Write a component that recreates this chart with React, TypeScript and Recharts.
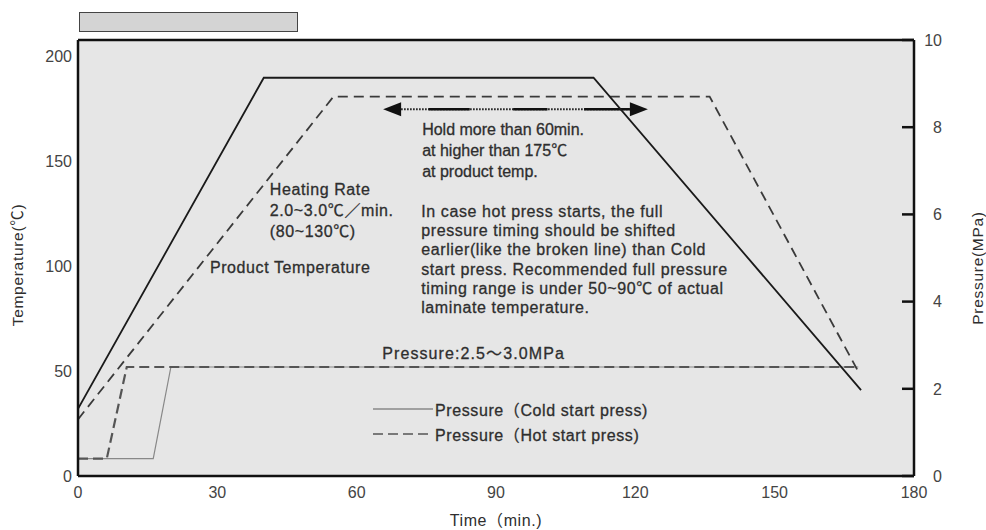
import React from "react";
import {
  ComposedChart,
  Line,
  XAxis,
  YAxis,
  CartesianGrid,
  ReferenceLine,
  ReferenceDot,
  Legend,
} from "recharts";

const FONT = '"Liberation Sans", Arial, "Noto Sans CJK JP", sans-serif';
const INK = "#2e2e2e";

// axes
const timeTicks = [0, 30, 60, 90, 120, 150, 180];
const tempTicks = [0, 50, 100, 150, 200];
const pressTicks = [0, 2, 4, 6, 8, 10];

// press (platen) temperature, solid
const platenTime = [0, 40, 111, 168.6];
const platenTemp = [32, 190, 190, 41];

// product temperature, dashed
const productTime = [0, 55, 136, 168.2];
const productTemp = [27, 181, 181, 49];

// pressure, cold start press
const coldTime = [0, 16.2, 20, 168];
const coldPress = [0.4, 0.4, 2.5, 2.5];

// pressure, hot start press
const hotTime = [0, 6.2, 10.5, 168];
const hotPress = [0.4, 0.4, 2.5, 2.5];

// hold window arrow
const holdFrom = 65.7;
const holdTo = 122.7;
const holdTemp = 175;

const holdNote = ["Hold more than 60min.", "at higher than 175℃", "at product temp."];
const rateNote = ["Heating Rate", "2.0~3.0℃／min.", "(80~130℃)"];
const productNote = ["Product Temperature"];
const hotNote = [
  "In case hot press starts, the full",
  "pressure timing should be shifted",
  "earlier(like the broken line) than Cold",
  "start press. Recommended full pressure",
  "timing range is under 50~90℃ of actual",
  "laminate temperature.",
];
const pressureNote = ["Pressure:2.5～3.0MPa"];

const zip = (xs: number[], ys: number[]) => xs.map((t, i) => ({ t, v: ys[i] }));

const platenData = zip(platenTime, platenTemp);
const productData = zip(productTime, productTemp);
const coldData = zip(coldTime, coldPress);
const hotData = zip(hotTime, hotPress);

// multi-line text block anchored at a data point (first baseline)
function textBlock(lines: string[], lineHeight: number, spacing = 0.6) {
  return (p: any) => (
    <text
      x={p.cx}
      y={p.cy}
      fill={INK}
      stroke={INK}
      strokeWidth={0.3}
      fontSize={16}
      fontFamily={FONT}
      letterSpacing={spacing}
    >
      {lines.map((s, i) => (
        <tspan key={i} x={p.cx} dy={i === 0 ? 0 : lineHeight}>
          {s}
        </tspan>
      ))}
    </text>
  );
}

// double-headed arrow, dotted shaft broken by solid runs
function HoldArrow(p: any) {
  const { x1, x2, y1 } = p;
  const head = 18;
  const a = x1 + head;
  const b = x2 - head;
  const len = b - a;
  const solid = [
    [0.12, 0.3],
    [0.49, 0.64],
    [0.8, 1],
  ];
  return (
    <g>
      <line x1={a} y1={y1} x2={b} y2={y1} stroke="#111" strokeWidth={2} strokeDasharray="1.5 1.5" />
      {solid.map(([s, e], i) => (
        <line key={i} x1={a + s * len} y1={y1} x2={a + e * len} y2={y1} stroke="#111" strokeWidth={2.5} />
      ))}
      <polygon points={`${x1},${y1} ${a},${y1 - 7} ${a},${y1 + 7}`} fill="#111" />
      <polygon points={`${x2},${y1} ${b},${y1 - 7} ${b},${y1 + 7}`} fill="#111" />
    </g>
  );
}

function PressureTick({ x, y, payload }: any) {
  return (
    <g>
      <line x1={x - 12} y1={y} x2={x} y2={y} stroke="#111" strokeWidth={2.5} />
      <text x={x + 28} y={y} dy="0.36em" textAnchor="end" fill="#444" fontSize={16} fontFamily={FONT}>
        {payload.value}
      </text>
    </g>
  );
}

function PressureLegend({ payload }: any) {
  const items = (payload || []).filter((it: any) => it.type !== "none");
  return (
    <div
      style={{
        fontFamily: FONT,
        fontSize: 16,
        color: INK,
        letterSpacing: 0.6,
        WebkitTextStroke: `0.3px ${INK}`,
      }}
    >
      {items.map((it: any) => (
        <div key={it.value} style={{ display: "flex", alignItems: "center", height: 25 }}>
          <svg width={60} height={10}>
            <line
              x1={0}
              x2={60}
              y1={5}
              y2={5}
              stroke={it.color}
              strokeWidth={1.5}
              strokeDasharray={it.payload?.strokeDasharray}
            />
          </svg>
          <span style={{ marginLeft: 2 }}>{it.value}</span>
        </div>
      ))}
    </div>
  );
}

function sideTitle(text: string, x: number, shift: number) {
  return ({ viewBox }: any) => {
    const cy = viewBox.y + viewBox.height / 2 + shift;
    return (
      <text
        x={x}
        y={cy}
        transform={`rotate(-90 ${x} ${cy})`}
        textAnchor="middle"
        dominantBaseline="central"
        fill={INK}
        fontSize={15.5}
        letterSpacing={0.7}
        fontFamily={FONT}
      >
        {text}
      </text>
    );
  };
}

export default function App() {
  return (
    <div style={{ position: "absolute", left: 0, top: 0, width: 986, height: 530, background: "#fff", fontFamily: FONT }}>
      <div
        style={{
          position: "absolute",
          left: 79,
          top: 12,
          width: 217,
          height: 18,
          background: "#d4d4d4",
          border: "1px solid #444",
        }}
      />
      <ComposedChart width={986} height={530} margin={{ top: 40, right: 0, bottom: 0, left: 0 }}>
        <CartesianGrid fill="#e6e6e6" horizontal={false} vertical={false} />
        <XAxis
          xAxisId="time"
          type="number"
          dataKey="t"
          domain={[0, 180]}
          ticks={timeTicks}
          allowDataOverflow
          height={54}
          tickSize={0}
          tickMargin={11}
          tick={{ fill: "#444", fontSize: 16, fontFamily: FONT }}
          axisLine={{ stroke: "#111", strokeWidth: 2.5 }}
          label={{
            content: ({ viewBox }: any) => (
              <text
                x={viewBox.x + viewBox.width / 2}
                y={viewBox.y + 50}
                textAnchor="middle"
                fill={INK}
                fontSize={16}
                letterSpacing={0.6}
                fontFamily={FONT}
              >
                Time（min.)
              </text>
            ),
          }}
        />
        <YAxis
          yAxisId="temp"
          type="number"
          domain={[0, 208]}
          ticks={tempTicks}
          allowDataOverflow
          width={78}
          tickSize={0}
          tickMargin={6}
          tick={{ fill: "#444", fontSize: 16, fontFamily: FONT }}
          axisLine={{ stroke: "#111", strokeWidth: 2.5 }}
          label={{ content: sideTitle("Temperature(℃)", 17, 7) }}
        />
        <YAxis
          yAxisId="press"
          orientation="right"
          type="number"
          domain={[0, 10]}
          ticks={pressTicks}
          allowDataOverflow
          width={72}
          tickSize={0}
          tickMargin={0}
          tickLine={false}
          tick={<PressureTick />}
          axisLine={{ stroke: "#111", strokeWidth: 2.5 }}
          label={{ content: sideTitle("Pressure(MPa)", 977, 10) }}
        />

        {/* top edge of the frame */}
        <ReferenceLine xAxisId="time" yAxisId="temp" y={208} stroke="#111" strokeWidth={2.5} />

        <ReferenceLine
          xAxisId="time"
          yAxisId="temp"
          segment={[
            { x: holdFrom, y: holdTemp },
            { x: holdTo, y: holdTemp },
          ]}
          shape={(p: any) => <HoldArrow {...p} />}
        />

        <ReferenceDot xAxisId="time" yAxisId="temp" x={74.1} y={162.9} r={0} shape={textBlock(holdNote, 21, 0)} />
        <ReferenceDot xAxisId="time" yAxisId="temp" x={41.3} y={134} r={0} shape={textBlock(rateNote, 21)} />
        <ReferenceDot xAxisId="time" yAxisId="temp" x={28.4} y={97} r={0} shape={textBlock(productNote, 21)} />
        <ReferenceDot xAxisId="time" yAxisId="temp" x={73.9} y={123.6} r={0} shape={textBlock(hotNote, 19.2)} />
        <ReferenceDot xAxisId="time" yAxisId="press" x={65.5} y={2.68} r={0} shape={textBlock(pressureNote, 21, 1.1)} />

        <Line
          xAxisId="time"
          yAxisId="press"
          data={coldData}
          dataKey="v"
          name="Pressure（Cold start press)"
          type="linear"
          stroke="#888"
          strokeWidth={1.2}
          dot={false}
          isAnimationActive={false}
        />
        <Line
          xAxisId="time"
          yAxisId="press"
          data={hotData}
          dataKey="v"
          name="Pressure（Hot start press)"
          type="linear"
          stroke="#555"
          strokeWidth={2.2}
          strokeDasharray="10 5"
          dot={false}
          isAnimationActive={false}
        />
        <Line
          xAxisId="time"
          yAxisId="temp"
          data={productData}
          dataKey="v"
          name="Product temperature"
          type="linear"
          stroke="#3a3a3a"
          strokeWidth={1.8}
          strokeDasharray="10 6"
          dot={false}
          legendType="none"
          isAnimationActive={false}
        />
        <Line
          xAxisId="time"
          yAxisId="temp"
          data={platenData}
          dataKey="v"
          name="Press temperature"
          type="linear"
          stroke="#1a1a1a"
          strokeWidth={1.8}
          dot={false}
          legendType="none"
          isAnimationActive={false}
        />

        <Legend
          layout="vertical"
          align="center"
          verticalAlign="middle"
          content={<PressureLegend />}
          wrapperStyle={{ left: 373, top: 396, width: 320 }}
        />
      </ComposedChart>
    </div>
  );
}
